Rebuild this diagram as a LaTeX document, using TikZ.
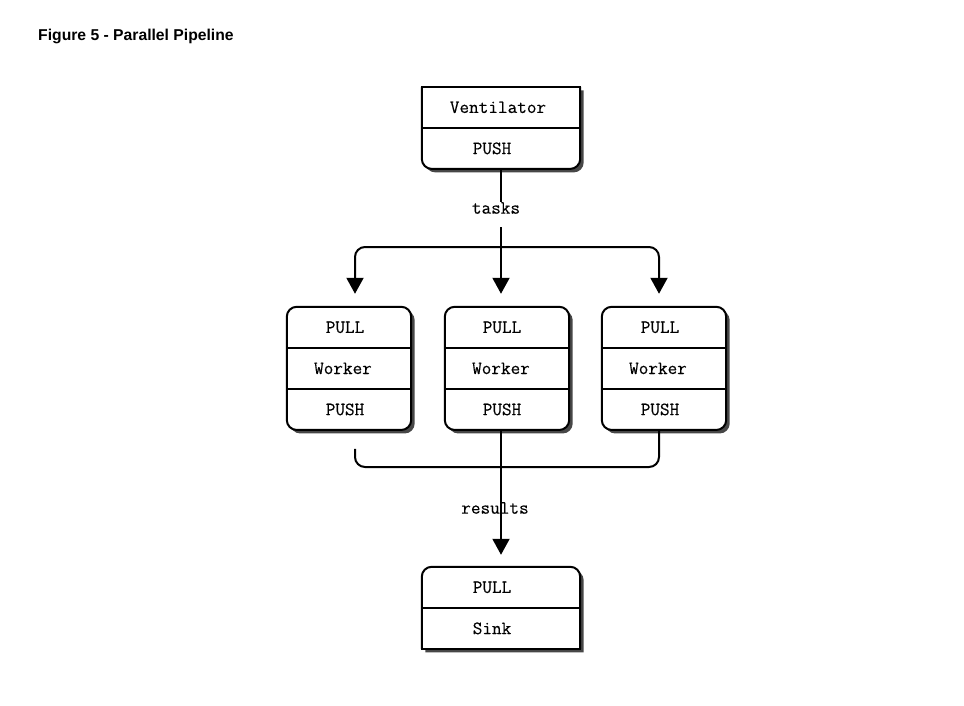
\documentclass[tikz,border=0pt]{standalone}
\usepackage{fontspec}
\newfontfamily\titlefont{Liberation Sans}
\setmonofont{Latin Modern Mono}[FakeBold=0.3]
\usepackage{tikz}
\usetikzlibrary{positioning,arrows.meta,backgrounds}

\tikzset{
  cell/.style={minimum width=124pt,minimum height=40.67pt,inner sep=0pt,font=\fontsize{18.7}{20}\selectfont\ttfamily},
  widecell/.style={cell,minimum width=158pt},
  nudge/.style={execute at begin node={\hskip-#1pt},execute at end node={\hskip#1pt}},
  boxline/.style={draw=black,line width=2pt},
  boxshadow/.style={fill=black!72,transform canvas={shift={(3.5,3.5)}}},
  flow/.style={line width=2pt},
  arrow/.style={flow,-{Triangle[width=17pt,length=16pt]},shorten >=13pt},
  lbl/.style={inner sep=0pt,font=\fontsize{18.7}{20}\selectfont\ttfamily},
}

\begin{document}
\begin{tikzpicture}[x=1pt,y=-1pt]
    \useasboundingbox (0,0) rectangle (964,705);
    \node[anchor=base west,inner sep=0pt,font=\titlefont\bfseries\fontsize{15.7}{18}\selectfont] (title) at (38,40) {Figure 5 - Parallel Pipeline};

    \node[widecell,nudge=3] (vent) at (501,107.3) {Ventilator};
    \node[widecell,nudge=9,below=0pt of vent] (ventpush) {PUSH};

    \node[cell,nudge=4] (w1pull) at (349,327.3) {PULL};
    \node[cell,nudge=6,below=0pt of w1pull] (w1) {Worker};
    \node[cell,nudge=4,below=0pt of w1] (w1push) {PUSH};
    \node[cell,nudge=5] (w2pull) at (507,327.3) {PULL};
    \node[cell,nudge=6,below=0pt of w2pull] (w2) {Worker};
    \node[cell,nudge=5,below=0pt of w2] (w2push) {PUSH};
    \node[cell,nudge=4] (w3pull) at (664,327.3) {PULL};
    \node[cell,nudge=6,below=0pt of w3pull] (w3) {Worker};
    \node[cell,nudge=4,below=0pt of w3] (w3push) {PUSH};

    \node[widecell,nudge=9] (sinkpull) at (501,587.3) {PULL};
    \node[widecell,nudge=9,below=0pt of sinkpull] (sink) {Sink};

    \begin{scope}[on background layer]
      \fill[boxshadow,rounded corners=10pt] (vent.north west) -- (ventpush.south west) -- (ventpush.south east) -- (vent.north east);
      \fill[white,rounded corners=10pt] (vent.north west) -- (ventpush.south west) -- (ventpush.south east) -- (vent.north east);
      \fill[boxshadow,rounded corners=10pt] (w1pull.north west) rectangle (w1push.south east);
      \fill[white,rounded corners=10pt] (w1pull.north west) rectangle (w1push.south east);
      \fill[boxshadow,rounded corners=10pt] (w2pull.north west) rectangle (w2push.south east);
      \fill[white,rounded corners=10pt] (w2pull.north west) rectangle (w2push.south east);
      \fill[boxshadow,rounded corners=10pt] (w3pull.north west) rectangle (w3push.south east);
      \fill[white,rounded corners=10pt] (w3pull.north west) rectangle (w3push.south east);
      \fill[boxshadow,rounded corners=10pt] (sink.south west) -- (sinkpull.north west) -- (sinkpull.north east) -- (sink.south east);
      \fill[white,rounded corners=10pt] (sink.south west) -- (sinkpull.north west) -- (sinkpull.north east) -- (sink.south east);
    \end{scope}

    \draw[boxline,rounded corners=10pt] (vent.north west) -- (ventpush.south west) -- (ventpush.south east) -- (vent.north east);
    \draw[boxline,line cap=rect] (vent.north west) -- (vent.north east);
    \draw[boxline] (vent.south west) -- (vent.south east);

    \draw[boxline,rounded corners=10pt] (w1pull.north west) rectangle (w1push.south east);
    \draw[boxline] (w1pull.south west) -- (w1pull.south east);
    \draw[boxline] (w1.south west) -- (w1.south east);
    \draw[boxline,rounded corners=10pt] (w2pull.north west) rectangle (w2push.south east);
    \draw[boxline] (w2pull.south west) -- (w2pull.south east);
    \draw[boxline] (w2.south west) -- (w2.south east);
    \draw[boxline,rounded corners=10pt] (w3pull.north west) rectangle (w3push.south east);
    \draw[boxline] (w3pull.south west) -- (w3pull.south east);
    \draw[boxline] (w3.south west) -- (w3.south east);

    \draw[boxline,rounded corners=10pt] (sink.south west) -- (sinkpull.north west) -- (sinkpull.north east) -- (sink.south east);
    \draw[boxline,line cap=rect] (sink.south west) -- (sink.south east);
    \draw[boxline] (sinkpull.south west) -- (sinkpull.south east);

    \coordinate (fork) at (501,247);
    \coordinate (join) at (501,467);
    \node[lbl] (tasks) at (496,208) {tasks};
    \node[lbl] (results) at (495,508) {results};

    \draw[flow] (ventpush.south) -- (ventpush.south |- tasks.north);
    \draw[arrow] (fork) ++(0,-20) -- ([xshift=-6pt]w2pull.north);
    \draw[arrow,rounded corners=10pt] (fork) -| ([xshift=6pt]w1pull.north);
    \draw[arrow,rounded corners=10pt] (fork) -| ([xshift=-5pt]w3pull.north);

    \draw[flow,rounded corners=10pt] ([shift={(6,19)}]w1push.south) |- (join) -| ([xshift=-5pt]w3push.south);
    \draw[arrow,shorten >=12pt] (sinkpull.north |- w2push.south) -- (sinkpull.north);
\end{tikzpicture}
\end{document}
